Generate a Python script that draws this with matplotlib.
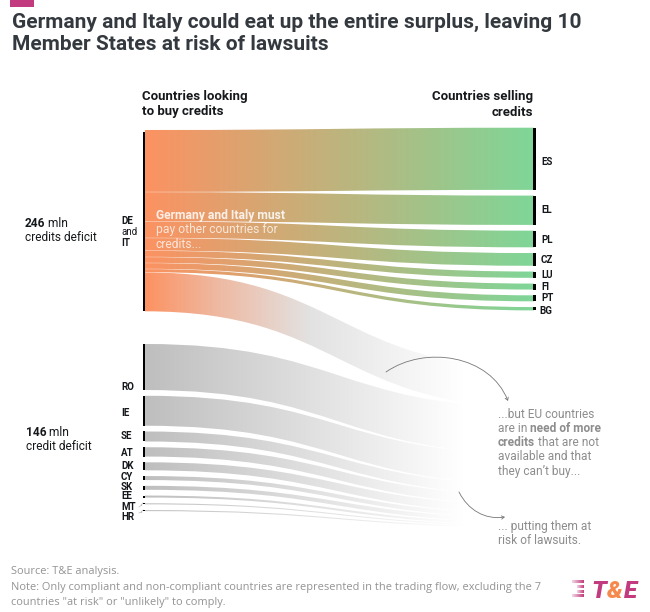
"""T&E credits trading flow: who buys, who sells, who is left short."""

import matplotlib
matplotlib.use("Agg")
import matplotlib.pyplot as plt
import numpy as np
from matplotlib.colors import to_rgb
from matplotlib.patches import FancyArrowPatch, PathPatch, Rectangle
from matplotlib.path import Path

plt.rcParams["font.family"] = ["Roboto", "DejaVu Sans"]

# flow sizes in mln credits
seller_names = ["ES", "EL", "PL", "CZ", "LU", "FI", "PT", "BG"]
seller_values = [84.0, 39.6, 22.5, 17.2, 8.5, 8.1, 8.1, 4.5]
big_buyer_total = 246.0
big_buyer_unmet = 245.0 - sum(seller_values)
buyer_names = ["RO", "IE", "SE", "AT", "DK", "CY", "SK", "EE", "MT", "HR"]
buyer_values = [62.2, 40.5, 13.5, 12.6, 10.8, 5.4, 5.4, 2.7, 1.4, 1.4]

PX_PER_MLN = 0.74
NODE_PAD = 5.75
X_LEFT, X_RIGHT = 145.0, 534.0

INK = "#16191c"
GREY_TXT = "#8d8d8d"
PINK = "#c23b7e"
ORANGE = "#f58a4e"
LABEL_SIZE = 7.0


def band(x0, y0_top, y0_bot, x1, y1_top, y1_bot):
    xm = (x0 + x1) / 2
    verts = [(x0, y0_top), (xm, y0_top), (xm, y1_top), (x1, y1_top),
             (x1, y1_bot), (xm, y1_bot), (xm, y0_bot), (x0, y0_bot),
             (x0, y0_top)]
    codes = [Path.MOVETO, Path.CURVE4, Path.CURVE4, Path.CURVE4,
             Path.LINETO, Path.CURVE4, Path.CURVE4, Path.CURVE4,
             Path.CLOSEPOLY]
    return Path(verts, codes)


def gradient(stops):
    # stops: (pixel x, colour) pairs, colour is held after the last stop
    xs = np.linspace(X_LEFT, X_RIGHT, 512)
    px = [s[0] for s in stops]
    rgb = np.array([to_rgb(s[1]) for s in stops])
    img = np.stack([np.interp(xs, px, rgb[:, i]) for i in range(3)], axis=-1)
    return img[np.newaxis, :, :]


def draw_band(ax, path, img):
    patch = PathPatch(path, facecolor="none", edgecolor="none",
                      transform=ax.transData)
    ax.add_patch(patch)
    im = ax.imshow(img, extent=[X_LEFT, X_RIGHT, 612, 0], aspect="auto",
                   interpolation="bilinear", zorder=1)
    im.set_clip_path(patch)


def runs(ax, x, y, parts, **kw):
    # mixed weight text on one baseline
    rend = ax.figure.canvas.get_renderer()
    for s, weight in parts:
        t = ax.text(x, y, s, fontweight=weight, va="baseline", **kw)
        x = t.get_window_extent(rend).x1 - 0.5


fig = plt.figure(figsize=(6.5, 6.12), dpi=100)
ax = fig.add_axes([0, 0, 1, 1])
ax.set_axis_off()
ax.set_xlim(0, 650)
ax.set_ylim(612, 0)

green_img = gradient([(X_LEFT, "#fc9262"), (X_RIGHT, "#7fd698")])
grey_img = gradient([(X_LEFT, "#bebebe"), (325, "#e3e3e3"), (462, "#ffffff")])
unmet_img = gradient([(X_LEFT, "#fc9262"), (215, "#efb8a0"), (310, "#e2e2e2"),
                      (462, "#ffffff")])

# sellers: the big buyers' stack on the left, padded nodes on the right
seller_label_y = [161.7, 210, 240, 260, 275, 287, 298, 311]
y_l = 130.0
y_r = 127.7
for name, v, ly in zip(seller_names, seller_values, seller_label_y):
    h = v * PX_PER_MLN
    draw_band(ax, band(X_LEFT, y_l, y_l + h - 0.3, X_RIGHT, y_r, y_r + h), green_img)
    ax.add_patch(Rectangle((X_RIGHT - 0.7, y_r), 2.4, h, color="black", lw=0, zorder=3))
    ax.text(539.5 if name == "BG" else 541, ly, name, fontsize=LABEL_SIZE,
            fontweight="bold", color=INK, va="center", ha="left")
    y_l += h
    y_r += h + NODE_PAD

# what the big buyers cannot get
y_r = 368.0
h = big_buyer_unmet * PX_PER_MLN
draw_band(ax, band(X_LEFT, y_l, y_l + h, X_RIGHT, y_r, y_r + h), unmet_img)
y_r += h + 0.5
ax.add_patch(Rectangle((143, y_l + h - big_buyer_total * PX_PER_MLN + 2.5), 2.4,
                       big_buyer_total * PX_PER_MLN - 2.5, color="black", lw=0, zorder=3))

# the other buyers, stacked at the right where the flow has faded away
label_y = [386.5, 413, 436, 453, 466, 476.8, 486.5, 496.2, 507, 516.5]
y_l = 344.0
for name, v, ly in zip(buyer_names, buyer_values, label_y):
    h = v * PX_PER_MLN
    draw_band(ax, band(X_LEFT, y_l, y_l + h, X_RIGHT, y_r, y_r + h), grey_img)
    ax.add_patch(Rectangle((143, y_l), 2.4, h, color="black", lw=0, zorder=3))
    ax.text(121, ly, name, fontsize=LABEL_SIZE, fontweight="bold", color=INK, va="center")
    y_l += h + NODE_PAD
    y_r += h + 0.5

# MT / HR leader squiggles
for y0, y1 in [(503, 507), (510, 513)]:
    ax.plot([143, 141, 142, 139], [y0, y0 + 2, y0 + 2, y1], color="#bdbdbd", lw=0.5)

# header
ax.add_patch(Rectangle((10, 0), 24, 7, color=PINK, lw=0))
ax.text(12, 28, "Germany and Italy could eat up the entire surplus, leaving 10",
        fontsize=15.05, fontweight="bold", color="#33393e", va="baseline")
ax.text(12, 50, "Member States at risk of lawsuits",
        fontsize=15.05, fontweight="bold", color="#33393e", va="baseline")

ax.text(142, 100, "Countries looking", fontsize=9.5, fontweight="bold", color=INK)
ax.text(142, 115.5, "to buy credits", fontsize=9.5, fontweight="bold", color=INK)
ax.text(533, 100, "Countries selling", fontsize=9.5, fontweight="bold", color=INK, ha="right")
ax.text(533, 115.5, "credits", fontsize=9.5, fontweight="bold", color=INK, ha="right")

# left side labels
ax.text(121, 221, "DE", fontsize=LABEL_SIZE, fontweight="bold", color=INK, va="center")
ax.text(121, 232, "and", fontsize=LABEL_SIZE, color=INK, va="center")
ax.text(121, 242.5, "IT", fontsize=LABEL_SIZE, fontweight="bold", color=INK, va="center")
runs(ax, 25, 227, [("246", "bold"), (" mln", "normal")], fontsize=8.6, color=INK)
ax.text(25, 241, "credits deficit", fontsize=8.6, color=INK)
runs(ax, 26, 436, [("146", "bold"), (" mln", "normal")], fontsize=8.6, color=INK)
ax.text(26, 450, "credit deficit", fontsize=8.6, color=INK)

# text over the flow
ax.text(156, 219, "Germany and Italy must", fontsize=8.7, fontweight="bold",
        color="white", alpha=0.85, zorder=4)
ax.text(156, 233.5, "pay other countries for", fontsize=8.7, color="white", alpha=0.75, zorder=4)
ax.text(156, 247.5, "credits...", fontsize=8.7, color="white", alpha=0.75, zorder=4)

# annotations on the right
ax.text(498, 418, "...but EU countries", fontsize=8.6, color=GREY_TXT)
runs(ax, 498, 432, [("are in ", "normal"), ("need of more", "bold")], fontsize=8.6, color=GREY_TXT)
runs(ax, 498, 446, [("credits", "bold"), (" that are not", "normal")], fontsize=8.6, color=GREY_TXT)
ax.text(498, 460.5, "available and that", fontsize=8.6, color=GREY_TXT)
ax.text(498, 474.5, "they can\u2019t buy...", fontsize=8.6, color=GREY_TXT)
ax.text(498, 530, "... putting them at", fontsize=8.6, color=GREY_TXT)
ax.text(498, 544, "risk of lawsuits.", fontsize=8.6, color=GREY_TXT)

arrow_1 = Path([(386, 372), (425, 345), (490, 355), (508, 401)],
               [Path.MOVETO, Path.CURVE4, Path.CURVE4, Path.CURVE4])
arrow_2 = Path([(459, 492), (468, 510), (485, 520), (505, 517)],
               [Path.MOVETO, Path.CURVE4, Path.CURVE4, Path.CURVE4])
for p in (arrow_1, arrow_2):
    ax.add_patch(FancyArrowPatch(path=p, arrowstyle="->,head_length=2,head_width=1.2",
                                 color="#777777", lw=0.6, zorder=5))

# footer
foot = dict(fontsize=7.92, color="#939393", family=["Open Sans", "DejaVu Sans"])
ax.text(11, 574, "Source: T&E analysis.", **foot)
ax.text(11, 590, "Note: Only compliant and non-compliant countries are represented in the trading flow, excluding the 7", **foot)
ax.text(11, 605, "countries \"at risk\" or \"unlikely\" to comply.", **foot)

# logo: stripes fade out to the left
stripe = np.ones((1, 64, 4))
stripe[..., :3] = to_rgb(PINK)
stripe[..., 3] = np.linspace(0.2, 1.0, 64)
for i, x0 in enumerate([572, 577, 577, 572]):
    ax.imshow(stripe, extent=[x0, 584, 581 + i * 4.6 + 2.4, 581 + i * 4.6],
              aspect="auto", interpolation="bilinear", zorder=2)
logo = dict(fontsize=17.5, fontweight="black", style="italic")
ax.text(591, 597.5, "T", color=PINK, **logo)
ax.text(606.5, 597.5, "&", color=ORANGE, **logo)
ax.text(624, 597.5, "E", color=PINK, **logo)

ax.set_xlim(0, 650)
ax.set_ylim(612, 0)
fig.savefig("out.png", dpi=100)
